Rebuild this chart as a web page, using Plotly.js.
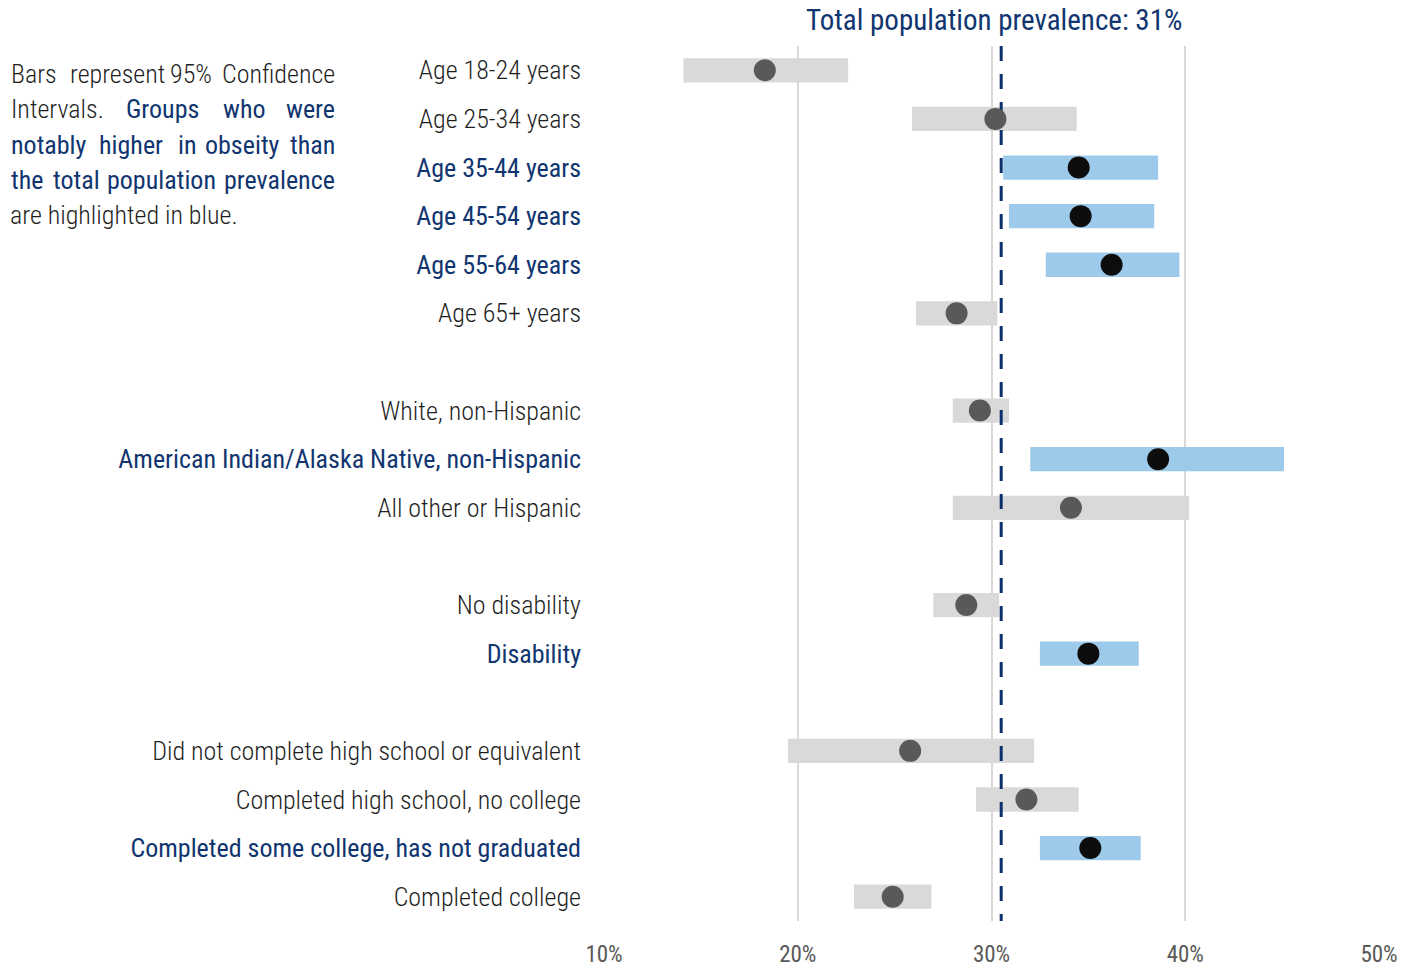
<!DOCTYPE html>
<html>
<head>
<meta charset="utf-8">
<script src="https://cdn.plot.ly/plotly-3.0.1.min.js"></script>
<style>html,body{margin:0;padding:0;background:#fff;}#chart{width:1410px;height:970px;}</style>
</head>
<body>
<div id="chart"></div>
<script>
// ---- data ----
const labels = [
  "Age 18-24 years", "Age 25-34 years", "Age 35-44 years", "Age 45-54 years", "Age 55-64 years", "Age 65+ years",
  "White, non-Hispanic", "American Indian/Alaska Native, non-Hispanic", "All other or Hispanic",
  "No disability", "Disability",
  "Did not complete high school or equivalent", "Completed high school, no college", "Completed some college, has not graduated", "Completed college"
];
const groupIndex = [0,0,0,0,0,0, 1,1,1, 2,2, 3,3,3,3];
const estimate = [18.3, 30.2, 34.5, 34.6, 36.2, 28.2, 29.4, 38.6, 34.1, 28.7, 35.0, 25.8, 31.8, 35.1, 24.9];
const ciLow    = [14.1, 25.9, 30.6, 30.9, 32.8, 26.1, 28.0, 32.0, 28.0, 27.0, 32.5, 19.5, 29.2, 32.5, 22.9];
const ciHigh   = [22.6, 34.4, 38.6, 38.4, 39.7, 30.3, 30.9, 45.1, 40.2, 30.4, 37.6, 32.2, 34.5, 37.7, 26.9];
const highlighted = [false,false,true,true,true,false, false,true,false, false,true, false,false,true,false];
const totalPrevalenceLine = 30.5;
const xTickVals = [10, 20, 30, 40, 50];
const xTickText = ["10%", "20%", "30%", "40%", "50%"];
const titleText = "Total population prevalence: 31%";

// ---- styles ----
const FONT = "Roboto Condensed, Liberation Sans Narrow, DejaVu Sans Condensed, Arial Narrow, sans-serif";
const BLUE_TXT = "#10356f";
const DARK_TXT = "#1f1f1f";
const slots = labels.map((_, i) => i + groupIndex[i]);
const nSlots = slots[slots.length - 1] + 1;

const barColors = highlighted.map(h => h ? "#9dcaea" : "#d9d9d9");
const dotColors = highlighted.map(h => h ? "#0d0d0d" : "#595959");
const tickText = labels.map((l, i) => highlighted[i]
  ? `<span style="color:${BLUE_TXT};font-weight:400">${l}</span>`
  : `<span style="color:${DARK_TXT};font-weight:300">${l}</span>`);

const bars = {
  type: "bar", orientation: "h",
  y: slots, base: ciLow, x: ciHigh.map((h, i) => h - ciLow[i]),
  width: 0.5, marker: {color: barColors, line: {width: 0}},
  hoverinfo: "skip", showlegend: false
};
const refLine = {
  type: "scatter", mode: "lines",
  x: [totalPrevalenceLine, totalPrevalenceLine], y: [-0.5, nSlots - 0.5],
  line: {color: "#0b316b", width: 3, dash: "15px,13px"},
  hoverinfo: "skip", showlegend: false, cliponaxis: false
};
const dots = {
  type: "scatter", mode: "markers",
  x: estimate, y: slots,
  marker: {size: 22, color: dotColors, line: {width: 0}},
  hoverinfo: "skip", showlegend: false
};

// left explanatory block (justified by placing words)
const H = 970, T = 46, B = 49, L = 604, R = 31;
const plotH = H - T - B, plotW = 1410 - L - R;
const px2x = px => (px - L) / plotW;
const py2y = py => 1 - (py - T) / plotH;
const noteLines = [
  {y: 74, words: [["Bars",9,0],["represent",68,0],["95%",168,0],["Confidence",337,0]]},
  {y: 109, words: [["Intervals.",9,0],["Groups",124,1],["who",221,1],["were",337,1]]},
  {y: 145, words: [["notably",9,1],["higher",97,1],["in",176,1],["obseity",203,1],["than",337,1]]},
  {y: 180, words: [["the",9,1],["total",51,1],["population",105,1],["prevalence",337,1]]},
  {y: 215, words: [["are highlighted in blue.",8,0]]}
];
const annotations = [];
noteLines.forEach(line => {
  line.words.forEach((w, k) => {
    const last = (k === line.words.length - 1) && line.words.length > 1;
    annotations.push({
      xref: "paper", yref: "paper", x: px2x(w[1]), y: py2y(line.y),
      xanchor: last ? "right" : "left", yanchor: "middle", showarrow: false,
      text: w[0],
      font: {family: FONT, size: 26, color: w[2] ? BLUE_TXT : DARK_TXT, weight: w[2] ? 400 : 300}
    });
  });
});
annotations.push({
  xref: "paper", yref: "paper", x: px2x(994), y: py2y(20),
  xanchor: "center", yanchor: "middle", showarrow: false,
  text: titleText, font: {family: FONT, size: 29, color: BLUE_TXT, weight: 400}
});

const layout = {
  width: 1410, height: 970,
  margin: {l: L, r: R, t: T, b: B, pad: 0},
  paper_bgcolor: "#fff", plot_bgcolor: "#fff",
  barmode: "overlay",
  font: {family: FONT, size: 26, color: DARK_TXT},
  xaxis: {
    range: [10, 50], tickvals: xTickVals, ticktext: xTickText,
    showgrid: true, gridcolor: "#d9d9d9", gridwidth: 2, zeroline: false,
    showline: false, ticks: "", ticklabelstandoff: 17,
    tickfont: {family: FONT, size: 23, color: "#595959", weight: 400}, fixedrange: true
  },
  yaxis: {
    range: [nSlots - 0.5, -0.5], tickvals: slots, ticktext: tickText,
    showgrid: false, zeroline: false, showline: false, ticks: "",
    ticklabelstandoff: 22,
    tickfont: {family: FONT, size: 26, color: DARK_TXT, weight: 300}, fixedrange: true
  },
  annotations: annotations,
  hovermode: false
};

Plotly.newPlot("chart", [bars, refLine, dots], layout, {displayModeBar: false, staticPlot: true});
</script>
</body>
</html>
